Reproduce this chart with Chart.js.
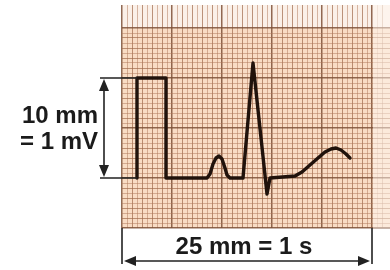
<!DOCTYPE html>
<html>
<head>
<meta charset="utf-8">
<script src="https://cdn.jsdelivr.net/npm/chart.js@4"></script>
<style>
  html, body { margin: 0; padding: 0; background: #ffffff; }
  canvas { display: block; }
</style>
</head>
<body>
<canvas id="ecg" width="390" height="270"></canvas>
<script>
// trace, in mm of paper (x: 25 mm = 1 s, y: 10 mm = 1 mV)
const traceX = [1.5, 1.5, 4.4, 4.4, 8.5, 8.8, 9.1, 9.4, 9.7, 10.0, 10.3, 10.5, 10.8, 12.1, 13.1, 14.5, 14.8, 17.3, 18.0, 18.8, 19.6, 20.3, 20.9, 21.4, 21.9, 22.4, 22.8];
const traceY = [0, 10, 10, 0, 0, 0.4, 1.4, 2.0, 2.2, 1.9, 1.0, 0.3, 0, 0, 11.5, -1.6, 0, 0.2, 0.6, 1.3, 2.0, 2.6, 2.9, 3.0, 2.8, 2.4, 2.0];

const calLabel = ['10 mm', '= 1 mV'];
const speedLabel = '25 mm = 1 s';
const calMv = [0, 10];      // mm
const speedSpan = [0, 25];  // mm

const PAPER_TOP = 15;   // last horizontal line of the sheet
const PAPER_END = 25;

function gridColor(v, faint) {
    const k = Math.round(v * 10);
    if (k % 5 !== 0) return 'rgba(0,0,0,0)';
    if (k % 50 === 0) return faint ? 'rgba(150,105,80,0.5)' : 'rgba(125,80,55,0.85)';
    if (k % 10 === 0) return faint ? 'rgba(170,125,95,0.45)' : 'rgba(160,105,75,0.7)';
    return faint ? 'rgba(180,135,105,0.3)' : 'rgba(175,120,90,0.5)';
}

const paperPlugin = {
    id: 'paper',
    beforeDraw(chart) {
        const { ctx, chartArea: a, scales: { y } } = chart;
        const yt = y.getPixelForValue(PAPER_TOP);
        ctx.save();
        ctx.fillStyle = '#f9dcc4';
        ctx.fillRect(a.left, yt, a.right - a.left, a.bottom - yt);
        ctx.fillStyle = '#fbf0e8';
        ctx.fillRect(a.left, a.top, a.right - a.left, yt - a.top);
        ctx.restore();
    },
    beforeDatasetsDraw(chart) {
        const { ctx, chartArea: a, scales: { x } } = chart;
        const xe = x.getPixelForValue(PAPER_END);
        ctx.save();
        ctx.fillStyle = 'rgba(255,248,242,0.5)';
        ctx.fillRect(xe + 1, a.top, a.right - xe, a.bottom - a.top);
        ctx.restore();
    },
    afterDraw(chart) {
        const { ctx, scales: { x, y } } = chart;
        ctx.save();
        ctx.strokeStyle = '#222';
        ctx.fillStyle = '#222';
        ctx.lineWidth = 1.6;

        // calibration arrow, left of the sheet
        const ax = x.getPixelForValue(-1.8);
        const y0 = y.getPixelForValue(calMv[0]);
        const y1 = y.getPixelForValue(calMv[1]);
        ctx.beginPath();
        ctx.moveTo(x.getPixelForValue(-2.2), y1);
        ctx.lineTo(x.getPixelForValue(1.5), y1);
        ctx.moveTo(x.getPixelForValue(-2.2), y0);
        ctx.lineTo(x.getPixelForValue(1.5), y0);
        ctx.moveTo(ax, y1 + 8);
        ctx.lineTo(ax, y0 - 8);
        ctx.stroke();
        arrowHead(ctx, ax, y1 + 1, 0, -1);
        arrowHead(ctx, ax, y0 - 1, 0, 1);

        // paper speed bracket
        const bx0 = x.getPixelForValue(speedSpan[0]);
        const bx1 = x.getPixelForValue(speedSpan[1]);
        const by = y.getPixelForValue(-8.3);
        ctx.beginPath();
        ctx.moveTo(bx0, y.getPixelForValue(-5));
        ctx.lineTo(bx0, by + 3);
        ctx.moveTo(bx1, y.getPixelForValue(-5));
        ctx.lineTo(bx1, by + 3);
        ctx.moveTo(bx0 + 8, by);
        ctx.lineTo(bx1 - 8, by);
        ctx.stroke();
        arrowHead(ctx, bx0 + 2, by, -1, 0);
        arrowHead(ctx, bx1 - 2, by, 1, 0);

        ctx.font = 'bold 24px "Liberation Sans", Arial, sans-serif';
        ctx.fillStyle = '#1b1b1b';
        ctx.textBaseline = 'middle';
        ctx.textAlign = 'right';
        ctx.fillText(calLabel[0], ax - 6, y.getPixelForValue(6.2));
        ctx.fillText(calLabel[1], ax - 6, y.getPixelForValue(3.6));
        ctx.textAlign = 'center';
        ctx.fillText(speedLabel, (bx0 + bx1) / 2 - 3, y.getPixelForValue(-6.9));
        ctx.restore();
    }
};

function arrowHead(ctx, tx, ty, dx, dy) {
    const len = 12, half = 5;
    const bx = tx - dx * len, by = ty - dy * len;
    ctx.beginPath();
    ctx.moveTo(tx, ty);
    ctx.lineTo(bx - dy * half, by + dx * half);
    ctx.lineTo(bx + dy * half, by - dx * half);
    ctx.closePath();
    ctx.fill();
}

new Chart(document.getElementById('ecg'), {
    type: 'line',
    data: {
        datasets: [{
            data: traceX.map((v, i) => ({ x: v, y: traceY[i] })),
            borderColor: '#20120b',
            borderWidth: 3.4,
            borderJoinStyle: 'round',
            borderCapStyle: 'round',
            pointRadius: 0,
            tension: 0,
            fill: false
        }]
    },
    options: {
        responsive: false,
        animation: false,
        devicePixelRatio: 1,
        layout: { padding: { left: 122, right: 0, top: 5, bottom: 42 } },
        plugins: { legend: { display: false }, tooltip: { enabled: false } },
        scales: {
            x: {
                type: 'linear',
                min: 0,
                max: 26.8,
                border: { display: false },
                ticks: { display: false, stepSize: 0.5, maxTicksLimit: 1000 },
                grid: {
                    drawTicks: false,
                    tickLength: 0,
                    color: c => gridColor(c.tick.value, c.tick.value > PAPER_END),
                    lineWidth: c => Math.round(c.tick.value * 10) % 50 === 0 ? 1.5 : 1
                }
            },
            y: {
                type: 'linear',
                min: -5,
                max: 17.3,
                border: { display: false },
                ticks: { display: false, stepSize: 0.5, maxTicksLimit: 1000 },
                grid: {
                    drawTicks: false,
                    tickLength: 0,
                    color: c => c.tick.value > PAPER_TOP + 0.01 ? 'rgba(0,0,0,0)' : gridColor(c.tick.value, false),
                    lineWidth: c => Math.round(c.tick.value * 10) % 50 === 0 ? 1.5 : 1
                }
            }
        }
    },
    plugins: [paperPlugin]
});
</script>
</body>
</html>
